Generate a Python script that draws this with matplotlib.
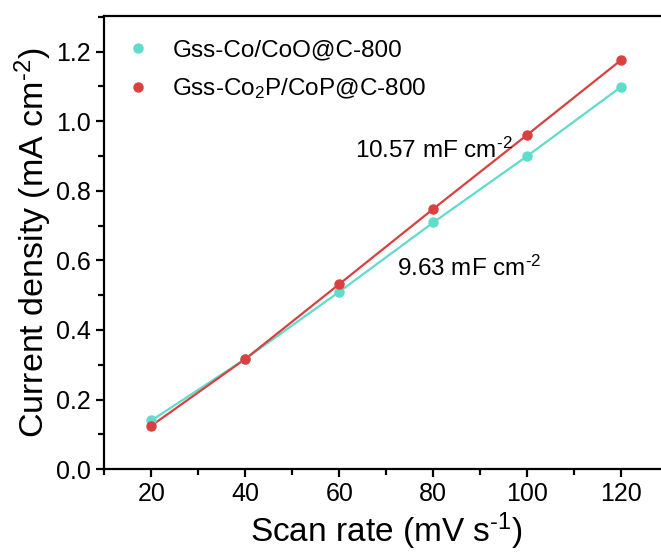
import numpy as np
import matplotlib
matplotlib.use('Agg')
import matplotlib.pyplot as plt
from matplotlib.ticker import MultipleLocator

plt.rcParams['font.family'] = ['Liberation Sans', 'DejaVu Sans']
plt.rcParams['mathtext.fontset'] = 'custom'
plt.rcParams['mathtext.rm'] = 'Liberation Sans'
plt.rcParams['mathtext.it'] = 'Liberation Sans:italic'

# dados
scan_rate = [20, 40, 60, 80, 100, 120]  # mV s-1
j_coo = [0.140, 0.317, 0.510, 0.709, 0.900, 1.099]  # Gss-Co/CoO@C-800
j_cop = [0.125, 0.317, 0.532, 0.748, 0.961, 1.176]  # Gss-Co2P/CoP@C-800

label_coo = 'Gss-Co/CoO@C-800'
label_cop = 'Gss-Co$_2$P/CoP@C-800'
cdl_coo = '9.63 mF cm$^{\\text{-2}}$'
cdl_cop = '10.57 mF cm$^{\\text{-2}}$'

c_coo = '#5fdccb'
c_cop = '#d9403f'

fig = plt.figure(figsize=(6.61, 5.52), dpi=100)
ax = fig.add_axes([0.158, 0.150, 0.853, 0.8216])

ax.plot(scan_rate, j_coo, color=c_coo, linewidth=1.6, zorder=2)
ax.plot(scan_rate, j_cop, color=c_cop, linewidth=1.6, zorder=3)
ax.plot(scan_rate, j_coo, 'o', color=c_coo, markersize=6.5, label=label_coo, zorder=4)
ax.plot(scan_rate, j_cop, 'o', color=c_cop, markersize=6.5, label=label_cop, zorder=5)

ax.text(63.3, 0.917, cdl_cop, fontsize=17.5, va='center')
ax.text(72.3, 0.578, cdl_coo, fontsize=17.5, va='center')

ax.set_xlim(10, 130)
ax.set_ylim(0, 1.303)
ax.xaxis.set_major_locator(MultipleLocator(20))
ax.xaxis.set_minor_locator(MultipleLocator(10))
ax.yaxis.set_major_locator(MultipleLocator(0.2))
ax.yaxis.set_minor_locator(MultipleLocator(0.1))
ax.set_xticks([20, 40, 60, 80, 100, 120])
ax.yaxis.set_major_formatter(plt.FormatStrFormatter('%.1f'))

for s in ax.spines.values():
    s.set_linewidth(1.6)
ax.tick_params(which='major', direction='out', length=6, width=1.6, labelsize=18)
ax.tick_params(which='minor', direction='out', length=4, width=1.6)
ax.tick_params(axis='y', which='both', right=False)
ax.tick_params(axis='x', which='both', top=False)

ax.set_xlabel('Scan rate (mV s$^{\\text{-1}}$)', fontsize=24, labelpad=3)
ax.set_ylabel('Current density (mA cm$^{\\text{-2}}$)', fontsize=24.5, labelpad=2)

ax.legend(loc='upper left', bbox_to_anchor=(0.0, 0.995), frameon=False, fontsize=17.5,
          handlelength=1.0, handletextpad=0.9, labelspacing=0.6, borderaxespad=0.5)

fig.savefig('out.png', dpi=100)
